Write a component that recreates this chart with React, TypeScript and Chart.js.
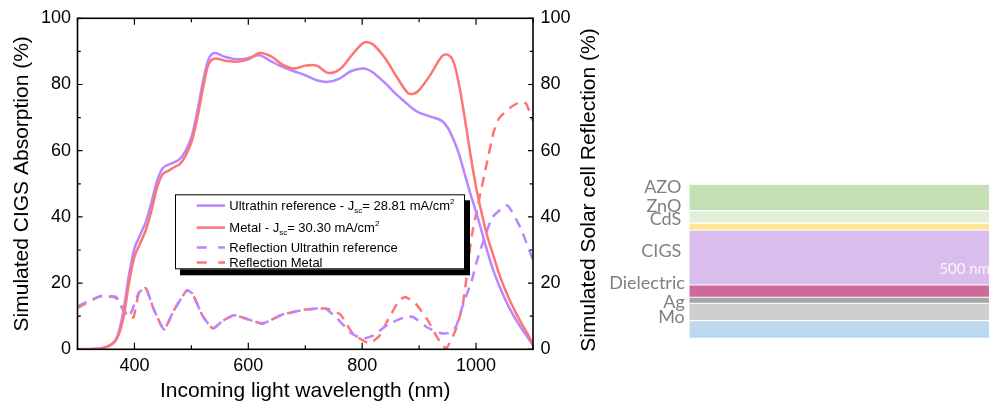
import React, { useEffect, useRef } from "react";
import { Chart, registerables } from "chart.js";

Chart.register(...registerables);

// ---------- Data: absorption (left axis) ----------
const absWavelengths = [300, 340, 360, 370, 380, 390, 400, 410, 420, 430, 440, 450, 460, 470, 480, 490, 500, 510, 520, 530, 540, 560, 580, 600, 620, 640, 660, 680, 700, 720, 740, 760, 780, 800, 810, 820, 840, 860, 880, 890, 900, 920, 940, 950, 960, 970, 980, 990, 1000, 1010, 1020, 1030, 1040, 1050, 1060, 1070, 1080, 1090, 1100];
const absUltrathin = [0, 0.3, 1.5, 4, 11, 22, 30.5, 34.5, 38.5, 44.5, 51, 54.8, 55.8, 56.5, 57.5, 60, 64, 71.5, 80.5, 87.5, 89.5, 88.3, 87.6, 88, 88.8, 87, 85.3, 84, 82.8, 81.3, 80.8, 81.8, 84, 84.8, 84.5, 83.5, 80.5, 77, 74, 72.5, 71.5, 70.3, 69, 67, 63.5, 59, 53, 47, 41.5, 35.5, 29.5, 24, 19.5, 15.5, 12, 9, 6.3, 3.8, 1.2];
const absMetal = [0, 0.2, 1.5, 3.5, 9, 19.5, 28, 32, 36, 42, 49, 53, 54, 55, 56, 58.5, 62.5, 69.5, 78.5, 86, 87.8, 87.2, 86.9, 87.6, 89.5, 88.5, 86, 84.8, 85.7, 85.7, 83.5, 84.5, 88.5, 92.3, 92.8, 92, 88, 82.5, 77.5, 77.2, 78.3, 83, 88.5, 89, 87, 80, 70, 59, 49, 41, 34, 28.5, 23, 18.5, 14.5, 11, 7.8, 4.8, 1.5];

// ---------- Data: reflection (right axis) ----------
const reflUltraWavelengths = [300, 340, 368, 390, 408, 420, 433, 452, 470, 492, 502, 520, 538, 555, 575, 595, 625, 660, 700, 735, 755, 780, 800, 820, 845, 880, 892, 915, 940, 955, 965, 978, 992, 1002, 1028, 1055, 1078, 1100];
const reflUltrathin = [13, 16, 15.8, 9.8, 17.2, 18.5, 12.5, 6, 12, 17.8, 16.8, 10, 6.3, 8.6, 10.3, 9.3, 7.8, 10.5, 12, 12.3, 9.5, 5, 3.2, 4.2, 7.5, 10, 9.5, 6.5, 4.8, 5, 7, 14, 20.5, 27, 39.7, 43.5, 36.7, 27];
const reflMetalWavelengths = [300, 340, 368, 385, 398, 408, 420, 433, 452, 470, 492, 502, 520, 538, 555, 575, 595, 625, 660, 700, 737, 762, 783, 800, 813, 830, 845, 865, 876, 894, 915, 938, 948, 964, 976, 982, 993, 1017, 1031, 1040, 1060, 1078, 1088, 1100];
const reflMetal = [12.5, 16, 15.5, 10.3, 9.6, 17.2, 18.5, 12.5, 6, 12, 17.8, 16.8, 10, 6.3, 8.6, 10.3, 9.3, 7.8, 10.5, 12, 12.3, 10.5, 4.8, 2.8, 1.8, 4, 8.8, 14.8, 15.8, 13.8, 8.8, 1.8, 0.3, 5.8, 12.8, 20, 34.8, 54.7, 65.7, 69.7, 73, 74.8, 74.2, 69];

// ---------- Axes ----------
const xLabelValues = [400, 600, 800, 1000];
const xMarkValues = [300, 400, 500, 600, 700, 800, 900, 1000, 1100];
const yLabelValues = [0, 20, 40, 60, 80, 100];
const yMarkValues = [0, 10, 20, 30, 40, 50, 60, 70, 80, 90, 100];
const xTitle = "Incoming light wavelength (nm)";
const yLeftTitle = "Simulated CIGS Absorption (%)";
const yRightTitle = "Simulated Solar cell Reflection (%)";

// ---------- Layer stack (top to bottom) ----------
const layerNames = ["AZO", "ZnO", "CdS", "CIGS", "Dielectric", "Ag", "Mo", ""];
const layerThickness = [240, 115, 65, 500, 112, 55, 158, 162];
const layerColors = ["#c5e0b4", "#e2f0d9", "#ffe699", "#d9bdec", "#cd6a9b", "#a6a6a6", "#d0cece", "#bdd7ee"];
const layerLabelShift = [-4.1, -4.5, -1.7, -0.3, -1.8, 7.3, 10.6, 0];
const cigsThicknessLabel = "500 nm";

const PURPLE = "#b886ff";
const RED = "#ff7474";
const FONT = "'Liberation Sans', Arial, sans-serif";

const toXY = (xs: number[], ys: number[]) => xs.map((x, i) => ({ x, y: ys[i] }));

type Part = { t: string; mode?: "sub" | "sup" };
const legendRows: { color: string; dashed: boolean; parts: Part[] }[] = [
  { color: PURPLE, dashed: false, parts: [{ t: "Ultrathin reference - J" }, { t: "sc", mode: "sub" }, { t: "= 28.81 mA/cm" }, { t: "2", mode: "sup" }] },
  { color: RED, dashed: false, parts: [{ t: "Metal - J" }, { t: "sc", mode: "sub" }, { t: "= 30.30 mA/cm" }, { t: "2", mode: "sup" }] },
  { color: PURPLE, dashed: true, parts: [{ t: "Reflection Ultrathin reference" }] },
  { color: RED, dashed: true, parts: [{ t: "Reflection Metal" }] },
];

const framePlugin = {
  id: "frameTicksLegend",
  afterDatasetsDraw(chart: any) {
    const { ctx, chartArea: ca, scales } = chart;
    ctx.save();
    ctx.strokeStyle = "#000";
    ctx.lineWidth = 1.2;
    ctx.beginPath();
    xMarkValues.forEach((v) => {
      const px = scales.x.getPixelForValue(v);
      const len = xLabelValues.includes(v) ? 6.5 : 4;
      ctx.moveTo(px, ca.bottom);
      ctx.lineTo(px, ca.bottom - len);
      ctx.moveTo(px, ca.top);
      ctx.lineTo(px, ca.top + len);
    });
    yMarkValues.forEach((v) => {
      const len = yLabelValues.includes(v) ? 5 : 3.3;
      const pl = scales.y.getPixelForValue(v);
      ctx.moveTo(ca.left, pl);
      ctx.lineTo(ca.left + len, pl);
      const pr = scales.y2.getPixelForValue(v);
      ctx.moveTo(ca.right, pr);
      ctx.lineTo(ca.right - len, pr);
    });
    ctx.stroke();
    ctx.lineWidth = 1.6;
    ctx.strokeRect(ca.left, ca.top, ca.right - ca.left, ca.bottom - ca.top);

    // legend
    const lx = ca.left + 97.5;
    const ly = ca.top + 176;
    const lw = 290;
    const lh = 75;
    ctx.fillStyle = "#000";
    ctx.fillRect(lx + 5, ly + 6, lw, lh);
    ctx.fillStyle = "#fff";
    ctx.fillRect(lx, ly, lw, lh);
    ctx.lineWidth = 1;
    ctx.strokeStyle = "#000";
    ctx.strokeRect(lx + 0.5, ly + 0.5, lw - 1, lh - 1);
    const baselines = [15.6, 37.6, 57.6, 72.6];
    legendRows.forEach((row, i) => {
      const by = ly + baselines[i];
      const lineY = by - 4.3;
      ctx.save();
      ctx.strokeStyle = row.color;
      ctx.lineWidth = 2.5;
      ctx.setLineDash(row.dashed ? [10, 11.6] : []);
      ctx.beginPath();
      ctx.moveTo(lx + 21.7, lineY);
      ctx.lineTo(lx + 50, lineY);
      ctx.stroke();
      ctx.restore();
      let tx = lx + 54.3;
      ctx.fillStyle = "#000";
      ctx.textBaseline = "alphabetic";
      ctx.textAlign = "left";
      row.parts.forEach((p) => {
        const small = p.mode !== undefined;
        ctx.font = `${small ? 8 : 13}px ${FONT}`;
        const dy = p.mode === "sub" ? 3 : p.mode === "sup" ? -5.5 : 0;
        ctx.fillText(p.t, tx, by + dy);
        tx += ctx.measureText(p.t).width;
      });
    });

    // right axis title (reads bottom to top)
    ctx.save();
    ctx.translate(589, 190);
    ctx.rotate(-Math.PI / 2);
    ctx.font = `21px ${FONT}`;
    ctx.fillStyle = "#000";
    ctx.textAlign = "center";
    ctx.textBaseline = "middle";
    ctx.fillText(yRightTitle, 0, 0);
    ctx.restore();
    ctx.restore();
  },
};

const layerPlugin = {
  id: "layerLabels",
  afterDatasetsDraw(chart: any) {
    const { ctx, chartArea: ca, scales } = chart;
    const total = layerThickness.reduce((a, b) => a + b, 0);
    let topVal = total;
    ctx.save();
    ctx.font = `18px Lato, 'Open Sans', sans-serif`;
    ctx.fillStyle = "#808080";
    ctx.textAlign = "right";
    ctx.textBaseline = "alphabetic";
    layerNames.forEach((name, i) => {
      const botVal = topVal - layerThickness[i];
      const yTop = scales.y.getPixelForValue(topVal);
      const yBot = scales.y.getPixelForValue(botVal);
      const center = (yTop + yBot) / 2;
      if (name) {
        const rightX = i >= 4 ? ca.left - 4.5 : ca.left - 8;
        ctx.fillText(name, rightX, center + layerLabelShift[i]);
      }
      if (name === "CIGS") {
        ctx.save();
        ctx.font = `15px Lato, 'Open Sans', sans-serif`;
        ctx.fillStyle = "rgba(255,255,255,0.85)";
        ctx.textAlign = "left";
        ctx.fillText(cigsThicknessLabel, ca.left + 250, yBot - 11);
        ctx.restore();
      }
      topVal = botVal;
    });
    ctx.restore();
  },
};

export default function App() {
  const mainRef = useRef<HTMLCanvasElement | null>(null);
  const stackRef = useRef<HTMLCanvasElement | null>(null);

  useEffect(() => {
    if (!mainRef.current || !stackRef.current) return;
    const tickFont = { family: FONT, size: 18 };
    const plain = (v: any) => String(v);
    const main = new Chart(mainRef.current, {
      type: "line",
      data: {
        datasets: [
          { label: "Metal", data: toXY(absWavelengths, absMetal), borderColor: RED, borderWidth: 2.5, pointRadius: 0, tension: 0.35, yAxisID: "y", fill: false },
          { label: "Ultrathin reference", data: toXY(absWavelengths, absUltrathin), borderColor: PURPLE, borderWidth: 2.5, pointRadius: 0, tension: 0.35, yAxisID: "y", fill: false },
          { label: "Reflection Ultrathin reference", data: toXY(reflUltraWavelengths, reflUltrathin), borderColor: PURPLE, borderWidth: 2.5, borderDash: [10, 7], pointRadius: 0, tension: 0.15, yAxisID: "y2", fill: false },
          { label: "Reflection Metal", data: toXY(reflMetalWavelengths, reflMetal), borderColor: RED, borderWidth: 2.5, borderDash: [10, 7], pointRadius: 0, tension: 0.15, yAxisID: "y2", fill: false },
        ],
      } as any,
      options: {
        responsive: false,
        animation: false,
        events: [],
        layout: { padding: { top: 15.7, left: 0, right: 0, bottom: 0 } },
        plugins: { legend: { display: false }, tooltip: { enabled: false } },
        scales: {
          x: {
            type: "linear",
            position: "bottom",
            min: 300,
            max: 1100,
            grid: { display: false, drawTicks: false },
            border: { display: false },
            afterBuildTicks: (s: any) => { s.ticks = xLabelValues.map((v) => ({ value: v })); },
            afterFit: (s: any) => { s.height = 409 - 349.3; },
            ticks: { font: tickFont, color: "#000", padding: 6, autoSkip: false, maxRotation: 0, callback: plain },
            title: { display: true, text: xTitle, font: { family: FONT, size: 21 }, color: "#000", padding: { top: 0, bottom: 4.7 } },
          },
          y: {
            type: "linear",
            position: "left",
            min: 0,
            max: 100,
            grid: { display: false, drawTicks: false },
            border: { display: false },
            afterBuildTicks: (s: any) => { s.ticks = yLabelValues.map((v) => ({ value: v })); },
            afterFit: (s: any) => { s.width = 77.5; },
            ticks: { font: tickFont, color: "#000", padding: 6.5, callback: plain },
            title: { display: true, text: yLeftTitle, font: { family: FONT, size: 21 }, color: "#000", padding: { top: 10, bottom: 0 } },
          },
          y2: {
            type: "linear",
            position: "right",
            min: 0,
            max: 100,
            grid: { display: false, drawTicks: false },
            border: { display: false },
            afterBuildTicks: (s: any) => { s.ticks = yLabelValues.map((v) => ({ value: v })); },
            afterFit: (s: any) => { s.width = 87; },
            ticks: { font: tickFont, color: "#000", padding: 7.5, callback: plain },
          },
        },
      } as any,
      plugins: [framePlugin],
    });

    const total = layerThickness.reduce((a, b) => a + b, 0);
    const bottomUp = layerNames.map((_, i) => i).reverse();
    const stack = new Chart(stackRef.current, {
      type: "bar",
      data: {
        labels: ["stack"],
        datasets: bottomUp.map((i) => ({
          label: layerNames[i] || "substrate",
          data: [layerThickness[i]],
          backgroundColor: layerColors[i],
          borderColor: "#ffffff",
          borderWidth: { top: 0.9, bottom: 0.9, left: 0, right: 0 },
          borderSkipped: false,
          barPercentage: 1,
          categoryPercentage: 1,
        })),
      } as any,
      options: {
        responsive: false,
        animation: false,
        events: [],
        layout: { padding: { left: 99.3, top: 184.3, bottom: 70.7, right: 0 } },
        plugins: { legend: { display: false }, tooltip: { enabled: false } },
        scales: {
          x: { stacked: true, display: false },
          y: { stacked: true, display: false, min: 0, max: total },
        },
      } as any,
      plugins: [layerPlugin],
    });

    return () => {
      main.destroy();
      stack.destroy();
    };
  }, []);

  return (
    <div style={{ position: "absolute", left: 0, top: 0, width: 989, height: 409, background: "#fff", overflow: "hidden" }}>
      <canvas ref={mainRef} width={620} height={409} style={{ position: "absolute", left: 0, top: 0 }} />
      <canvas ref={stackRef} width={399} height={409} style={{ position: "absolute", left: 590, top: 0 }} />
    </div>
  );
}
